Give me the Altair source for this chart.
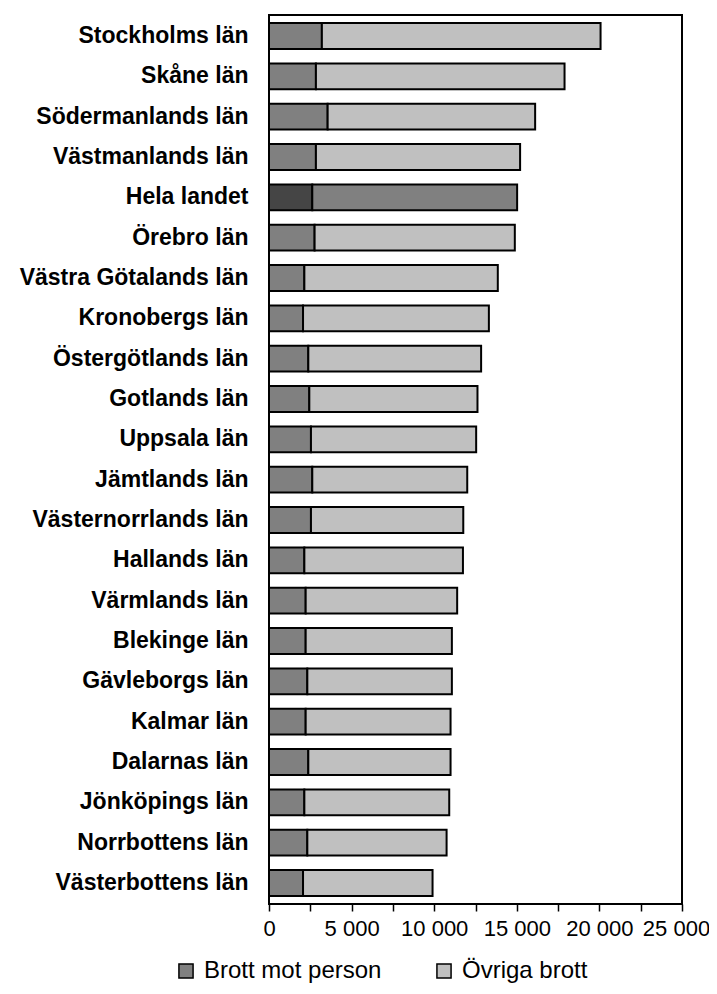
import altair as alt
import pandas as pd

categories = [
    "Stockholms län", "Skåne län", "Södermanlands län", "Västmanlands län",
    "Hela landet", "Örebro län", "Västra Götalands län", "Kronobergs län",
    "Östergötlands  län", "Gotlands län", "Uppsala län", "Jämtlands län",
    "Västernorrlands län", "Hallands län", "Värmlands län", "Blekinge län",
    "Gävleborgs län", "Kalmar län", "Dalarnas län", "Jönköpings län",
    "Norrbottens län", "Västerbottens län",
]
brott_mot_person = [3200, 2840, 3550, 2840, 2620, 2760, 2140, 2060, 2380, 2440, 2540,
                    2620, 2540, 2140, 2220, 2220, 2320, 2220, 2380, 2140, 2320, 2060]
ovriga_brott = [16870, 15050, 12560, 12360, 12400, 12120, 11710, 11250, 10460, 10180, 10000,
                9380, 9220, 9600, 9170, 8850, 8750, 8770, 8610, 8770, 8430, 7840]
series = ["Brott mot person", "Övriga brott"]
x_ticks = [0, 2500, 5000, 7500, 10000, 12500, 15000, 17500, 20000, 22500, 25000]

rows = []
for c, p, o in zip(categories, brott_mot_person, ovriga_brott):
    hl = c == "Hela landet"
    rows.append({"län": c, "serie": "Hela landet person" if hl else series[0],
                 "start": 0, "slut": p})
    rows.append({"län": c, "serie": "Hela landet övriga" if hl else series[1],
                 "start": p, "slut": p + o})
df = pd.DataFrame(rows)

FONT = "Liberation Sans"

chart = alt.Chart(df).mark_bar(stroke="black", strokeWidth=2).encode(
    y=alt.Y("län:N", sort=categories, title=None,
            scale=alt.Scale(paddingInner=0.36, paddingOuter=0.2),
            axis=alt.Axis(ticks=False, domain=False, labelFontSize=23, labelFontWeight="bold",
                          labelColor="black", labelPadding=21, labelLimit=400, labelFont=FONT)),
    x=alt.X("start:Q", title=None,
            scale=alt.Scale(domain=[0, 25000], nice=False),
            axis=alt.Axis(values=x_ticks, grid=False, domain=False, tickSize=7, tickColor="black",
                          tickWidth=1.5, labelFontSize=22, labelColor="black", labelPadding=7,
                          labelFont=FONT, labelFlush=False, labelOverlap=False,
                          labelOffset={"condition": {"test": "datum.value == 25000", "value": -6},
                                       "value": 0},
                          labelExpr="datum.value % 5000 === 0 ? replace(format(datum.value, ','), ',', ' ') : ''")),
    x2="slut:Q",
    fill=alt.Fill("serie:N",
                  scale=alt.Scale(domain=series + ["Hela landet person", "Hela landet övriga"],
                                  range=["#808080", "#C0C0C0", "#454545", "#808080"]),
                  legend=alt.Legend(values=series, title=None, orient="none", direction="horizontal",
                                    legendX=-95, legendY=944, symbolType="square", symbolSize=200,
                                    symbolStrokeColor="black", symbolStrokeWidth=1.5,
                                    labelFontSize=24, labelFont=FONT, labelColor="black",
                                    labelLimit=400, labelOffset=6, columnPadding=50)),
).properties(
    width=413, height=889,
    autosize=alt.AutoSizeParams(type="none"),
    padding={"left": 261, "top": 7, "right": 27, "bottom": 82},
).configure_view(
    stroke="black", strokeWidth=2
)

chart.save("out.html", embed_options={"renderer": "svg", "actions": False})
